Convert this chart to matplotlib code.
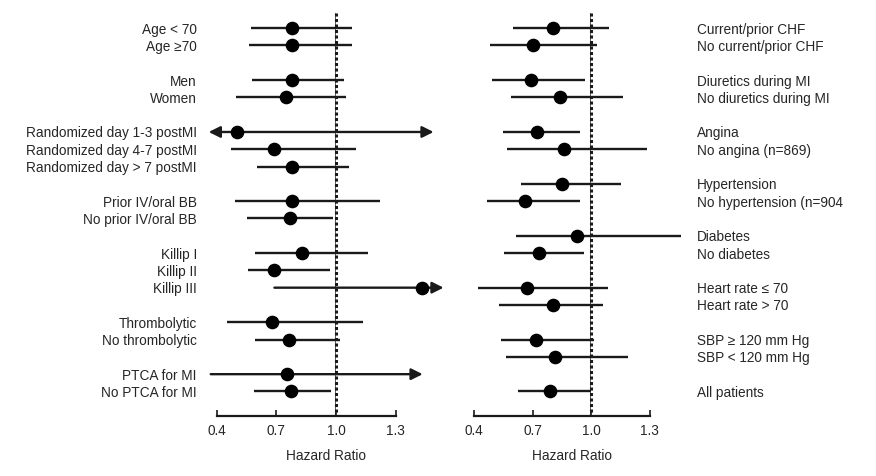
import numpy as np
import matplotlib
matplotlib.use('Agg')
import matplotlib.pyplot as plt

plt.rcParams['font.family'] = ['Liberation Sans', 'DejaVu Sans']

# left panel: subgroup, row, hazard ratio, lower CI, upper CI
left_labels = ['Age < 70', 'Age \u226570', 'Men', 'Women',
               'Randomized day 1-3 postMI', 'Randomized day 4-7 postMI',
               'Randomized day > 7 postMI', 'Prior IV/oral BB',
               'No prior IV/oral BB', 'Killip I', 'Killip II', 'Killip III',
               'Thrombolytic', 'No thrombolytic', 'PTCA for MI', 'No PTCA for MI']
left_rows = [0, 1, 3, 4, 6, 7, 8, 10, 11, 13, 14, 15, 17, 18, 20, 21]
left_hr = [0.78, 0.78, 0.78, 0.75, 0.50, 0.69, 0.78, 0.78, 0.77, 0.83, 0.69,
           1.43, 0.68, 0.765, 0.755, 0.775]
left_lo = [0.57, 0.56, 0.575, 0.495, 0.36, 0.47, 0.60, 0.49, 0.55, 0.59, 0.555,
           0.69, 0.45, 0.59, 0.37, 0.585]
left_hi = [1.08, 1.08, 1.04, 1.05, 1.49, 1.10, 1.065, 1.22, 0.985, 1.16, 0.97,
           1.54, 1.135, 1.02, 1.435, 0.975]
# CIs running off the scale are drawn with arrowheads
left_arrow_lo = [False] * 16
left_arrow_hi = [False] * 16
left_arrow_lo[4] = True
left_arrow_hi[4] = True
left_arrow_hi[11] = True
left_arrow_hi[14] = True

right_labels = ['Current/prior CHF', 'No current/prior CHF',
                'Diuretics during MI', 'No diuretics during MI',
                'Angina', 'No angina (n=869)', 'Hypertension',
                'No hypertension (n=904', 'Diabetes', 'No diabetes',
                'Heart rate \u2264 70', 'Heart rate > 70',
                'SBP \u2265 120 mm Hg', 'SBP < 120 mm Hg', 'All patients']
right_rows = [0, 1, 3, 4, 6, 7, 9, 10, 12, 13, 15, 16, 18, 19, 21]
right_hr = [0.805, 0.70, 0.69, 0.84, 0.72, 0.86, 0.85, 0.66, 0.925, 0.73,
            0.67, 0.805, 0.715, 0.815, 0.79]
right_lo = [0.60, 0.48, 0.49, 0.59, 0.545, 0.57, 0.64, 0.465, 0.615, 0.55,
            0.42, 0.525, 0.535, 0.56, 0.625]
right_hi = [1.09, 1.03, 0.97, 1.165, 0.94, 1.285, 1.15, 0.94, 1.46, 0.965,
            1.085, 1.06, 1.015, 1.19, 1.0]

xticks = [0.4, 0.7, 1.0, 1.3]
ink = '#1a1a1a'
txt = '#262626'
fs = 9.8


def forest(ax, rows, hr, lo, hi, arrow_lo=None, arrow_hi=None):
    n = len(rows)
    if arrow_lo is None:
        arrow_lo = [False] * n
    if arrow_hi is None:
        arrow_hi = [False] * n
    # reference line at HR = 1
    ax.plot([1.0, 1.0], [-0.9, 22.4], color=ink, lw=2.2,
            linestyle=(0, (1, 0.8)), zorder=1)
    ax.plot([0.995, 0.995], [-0.9, 22.4], color=ink, lw=0.5, zorder=1)
    for i in range(n):
        y = rows[i]
        if arrow_lo[i] or arrow_hi[i]:
            style = ('<|-|>' if arrow_lo[i] and arrow_hi[i]
                     else ('-|>' if arrow_hi[i] else '<|-'))
            ax.annotate('', xy=(hi[i], y), xytext=(lo[i], y),
                        arrowprops=dict(arrowstyle=style, color=ink, lw=1.7,
                                        mutation_scale=17, shrinkA=0, shrinkB=0),
                        zorder=2)
        else:
            ax.plot([lo[i], hi[i]], [y, y], color=ink, lw=1.7,
                     solid_capstyle='butt', zorder=2)
    ax.plot(hr, rows, 'o', color='black', ms=8.8, zorder=3)


fig = plt.figure(figsize=(8.76, 4.76), dpi=100)
W, H = 876.0, 476.0
bottom = (H - 415.7) / H
height = 23.6 * 17.3 / H

# left panel, 0.4 at x=216.7 px, 199 px per unit
ax1 = fig.add_axes([(216.7 - 0.1 * 199) / W, bottom, 1.3 * 199 / W, height])
ax1.set_xlim(0.3, 1.6)
forest(ax1, left_rows, left_hr, left_lo, left_hi, left_arrow_lo, left_arrow_hi)
ax1.set_yticks(left_rows)
ax1.set_yticklabels(left_labels, fontsize=fs, color=txt)
ax1.tick_params(axis='y', length=0, pad=0)

# right panel, 0.4 at x=474.3 px, 195 px per unit
ax2 = fig.add_axes([(474.3 - 0.1 * 195) / W, bottom, 1.2 * 195 / W, height])
ax2.set_xlim(0.3, 1.5)
forest(ax2, right_rows, right_hr, right_lo, right_hi)
ax2.set_yticks(right_rows)
ax2.set_yticklabels(right_labels, fontsize=fs, color=txt)
ax2.yaxis.tick_right()
ax2.tick_params(axis='y', length=0, pad=6)

for ax in (ax1, ax2):
    ax.set_ylim(22.4, -1.2)
    for s in ('top', 'left', 'right'):
        ax.spines[s].set_visible(False)
    ax.spines['bottom'].set_bounds(0.4, 1.3)
    ax.spines['bottom'].set_linewidth(1.6)
    ax.spines['bottom'].set_color(ink)
    ax.set_xticks(xticks)
    ax.set_xticklabels(['%.1f' % t for t in xticks], fontsize=fs, color=txt)
    ax.tick_params(axis='x', direction='in', length=4, width=1.2, pad=6,
                   color=ink)
    ax.set_xlabel('Hazard Ratio', fontsize=fs, labelpad=8, color=txt)
    ax.patch.set_alpha(0)

fig.savefig('out.png', dpi=100)
